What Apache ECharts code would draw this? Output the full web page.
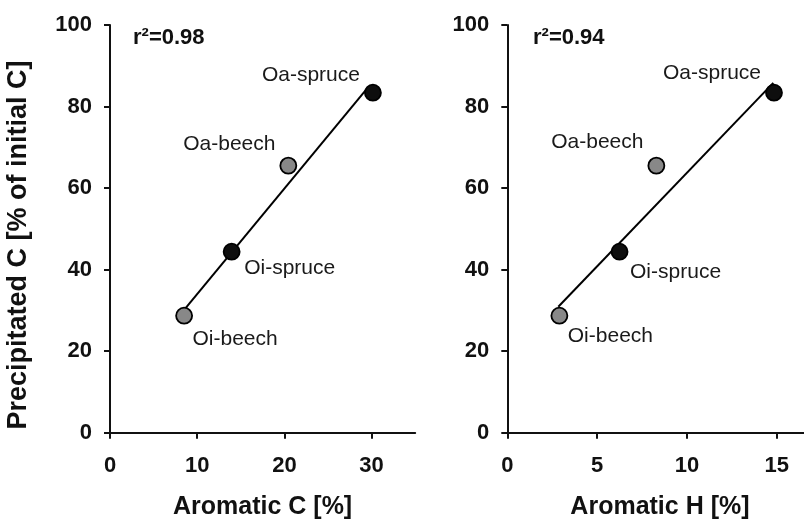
<!DOCTYPE html>
<html>
<head>
<meta charset="utf-8">
<script src="https://cdn.jsdelivr.net/npm/echarts@6/dist/echarts.min.js"></script>
<style>
  html, body { margin: 0; padding: 0; background: #fff; }
  #chart { width: 804px; height: 521px; }
</style>
</head>
<body>
<div id="chart"></div>
<script>
// Samples (litter horizons)
const samples = ['Oi-beech', 'Oi-spruce', 'Oa-beech', 'Oa-spruce'];
// Precipitated C [% of initial C]
const precipitatedC = [28.7, 44.4, 65.5, 83.4];
// Aromatic C [%] and aromatic H [%]
const aromaticC = [8.5, 13.95, 20.45, 30.15];
const aromaticH = [2.9, 6.25, 8.3, 14.85];
// Marker fill per sample: beech grey, spruce black
const isBeech = [true, false, true, false];
// Linear fit end points for each panel
const fitCx = [8.5, 29.4];
const fitCy = [30.1, 84.2];
const fitHx = [2.84, 14.81];
const fitHy = [30.9, 85.8];
// Tick values
const ticksC = [0, 10, 20, 30];
const ticksH = [0, 5, 10, 15];
const ticksY = [0, 20, 40, 60, 80, 100];
// Coefficients of determination
const r2Labels = ['r\u00B2=0.98', 'r\u00B2=0.94'];

const FONT = '"Liberation Sans", Arial, Helvetica, sans-serif';
const INK = '#111';

// label offsets (px) from marker centre, per sample, per panel
const labelOffsetC = [[51, 24], [58, 17], [-59, -21], [-62, -17]];
const labelOffsetH = [[51, 21], [56, 21], [-59, -23], [-62, -19]];

function pointData(xs, offsets) {
  return samples.map((s, i) => ({
    name: s,
    value: [xs[i], precipitatedC[i]],
    itemStyle: { color: isBeech[i] ? '#888888' : '#0e0e0e' },
    label: { offset: offsets[i] }
  }));
}

function valueAxis(ticks, extra) {
  return Object.assign({
    type: 'value',
    axisLine: { show: true, onZero: false, lineStyle: { color: INK, width: 2 } },
    axisTick: { show: true, length: 6, customValues: ticks, lineStyle: { color: INK, width: 2 } },
    splitLine: { show: false },
    axisLabel: {
      customValues: ticks,
      color: INK, fontFamily: FONT, fontWeight: 'bold', fontSize: 22, margin: 18
    }
  }, extra);
}

const titleStyle = { color: INK, fontFamily: FONT, fontWeight: 'bold', fontSize: 25 };

const chart = echarts.init(document.getElementById('chart'), null, { renderer: 'canvas' });

const scatterStyle = {
  type: 'scatter',
  symbol: 'circle',
  symbolSize: 16,
  z: 5,
  label: {
    show: true,
    position: 'inside',
    formatter: '{b}',
    color: '#1a1a1a',
    textBorderWidth: 0,
    textBorderColor: 'transparent',
    fontFamily: FONT,
    fontSize: 21,
    align: 'center',
    verticalAlign: 'middle'
  },
  itemStyle: { borderColor: '#000', borderWidth: 1.8, opacity: 1 },
  emphasis: { disabled: true }
};

const xC = valueAxis(ticksC, {
  gridIndex: 0, min: 0, max: 35,
  name: 'Aromatic C [%]', nameLocation: 'middle', nameGap: 62, nameTextStyle: titleStyle
});
xC.axisLabel.margin = 22;
const xH = valueAxis(ticksH, {
  gridIndex: 1, min: 0, max: 17,
  name: 'Aromatic H [%]', nameLocation: 'middle', nameGap: 62, nameTextStyle: titleStyle
});
xH.axisLabel.margin = 22;

chart.setOption({
  animation: false,
  backgroundColor: '#fff',
  grid: [
    { left: 110, top: 25, width: 305.2, bottom: 88.3, outerBoundsMode: 'none', containLabel: false },
    // extends past the right edge so the axis runs off the canvas
    { left: 507.3, top: 25, width: 305.3, bottom: 88.3, outerBoundsMode: 'none', containLabel: false }
  ],
  xAxis: [xC, xH],
  yAxis: [
    valueAxis(ticksY, { gridIndex: 0, min: 0, max: 100 }),
    valueAxis(ticksY, { gridIndex: 1, min: 0, max: 100 })
  ],
  graphic: [
    {
      type: 'text', left: 133, top: 27,
      style: { text: r2Labels[0], fill: INK, font: 'bold 22px ' + FONT }
    },
    {
      type: 'text', left: 533, top: 27,
      style: { text: r2Labels[1], fill: INK, font: 'bold 22px ' + FONT }
    },
    {
      type: 'text', x: 19, y: 245, rotation: Math.PI / 2,
      style: {
        text: 'Precipitated C [% of initial C]', fill: INK,
        font: 'bold 27px ' + FONT, align: 'center', verticalAlign: 'middle'
      }
    }
  ],
  series: [
    {
      type: 'line', xAxisIndex: 0, yAxisIndex: 0, z: 3,
      data: fitCx.map((x, i) => [x, fitCy[i]]),
      symbol: 'none', lineStyle: { color: '#000', width: 2 }
    },
    {
      type: 'line', xAxisIndex: 1, yAxisIndex: 1, z: 3,
      data: fitHx.map((x, i) => [x, fitHy[i]]),
      symbol: 'none', lineStyle: { color: '#000', width: 2 }
    },
    Object.assign({}, scatterStyle, { xAxisIndex: 0, yAxisIndex: 0, data: pointData(aromaticC, labelOffsetC) }),
    Object.assign({}, scatterStyle, { xAxisIndex: 1, yAxisIndex: 1, data: pointData(aromaticH, labelOffsetH) })
  ]
});
</script>
</body>
</html>
